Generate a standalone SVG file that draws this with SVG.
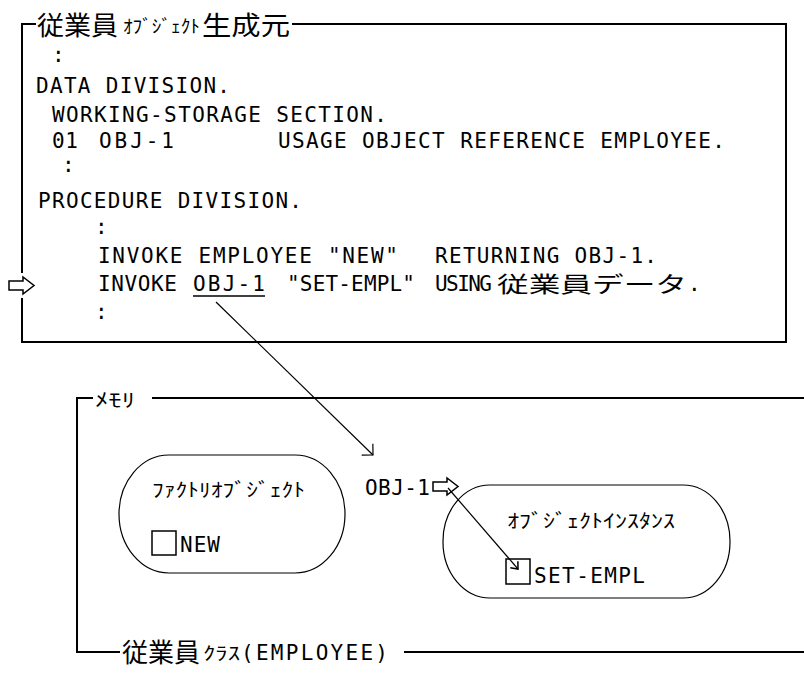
<svg xmlns="http://www.w3.org/2000/svg" width="804" height="673" viewBox="0 0 804 673">
<style>
.code{font-family:"DejaVu Sans Mono","Liberation Mono",monospace;font-size:21px;fill:#000}
.jp{font-family:"Noto Sans CJK JP","Noto Sans CJK SC",sans-serif;fill:#000}
.frame{fill:none;stroke:#000;stroke-width:2}
.oval{fill:none;stroke:#000;stroke-width:1.2}
.conn{fill:none;stroke:#000;stroke-width:1.2}
.hollow{fill:#fff;stroke:#000;stroke-width:1.5;stroke-linejoin:miter}
.box{fill:#fff;stroke:#000;stroke-width:1.5}
</style>
<defs>
<marker id="open" viewBox="-10 -10 20 20" refX="0" refY="0" markerWidth="20" markerHeight="20" orient="auto" markerUnits="userSpaceOnUse">
<path d="M-8,-8 L0,0 L-8,8" fill="none" stroke="#000" stroke-width="1.2"/>
</marker>
<marker id="small" viewBox="-10 -10 20 20" refX="0" refY="0" markerWidth="20" markerHeight="20" orient="auto" markerUnits="userSpaceOnUse">
<path d="M-6,-5 L0,0 L-6,5" fill="none" stroke="#000" stroke-width="1.5"/>
</marker>
</defs>

<g id="source-program">
<path class="frame" d="M36,24 H22 V273 M22,298 V342 H786 V24 H292"/>
<text class="jp" x="37" y="35" font-size="26" textLength="81" lengthAdjust="spacingAndGlyphs">従業員</text>
<text class="jp" x="123" y="33" font-size="18" textLength="77" lengthAdjust="spacingAndGlyphs">ｵﾌﾞｼﾞｪｸﾄ</text>
<text class="jp" x="202" y="35" font-size="26" textLength="88" lengthAdjust="spacingAndGlyphs">生成元</text>
<text class="code" x="52" y="62">:</text>
<text class="code" x="36" y="93" textLength="194">DATA DIVISION.</text>
<text class="code" x="52" y="122" textLength="335">WORKING-STORAGE SECTION.</text>
<text class="code" x="52" y="148" textLength="26">01</text>
<text class="code" x="99" y="148" textLength="75">OBJ-1</text>
<text class="code" x="278" y="148" textLength="447">USAGE OBJECT REFERENCE EMPLOYEE.</text>
<text class="code" x="62" y="172">:</text>
<text class="code" x="38" y="208" textLength="264">PROCEDURE DIVISION.</text>
<text class="code" x="95" y="234">:</text>
<text class="code" x="98" y="263" textLength="300">INVOKE EMPLOYEE "NEW"</text>
<text class="code" x="435" y="263" textLength="222">RETURNING OBJ-1.</text>
<text class="code" x="98" y="291" textLength="79">INVOKE</text>
<text class="code" x="193" y="291" textLength="72">OBJ-1</text>
<text class="code" x="287" y="291" textLength="128">"SET-EMPL"</text>
<text class="code" x="435" y="291" textLength="57">USING</text>
<text class="jp" x="497" y="292" font-size="22" textLength="190" lengthAdjust="spacingAndGlyphs">従業員データ</text>
<text class="code" x="688" y="291">.</text>
<line x1="193" y1="296" x2="265" y2="296" stroke="#000" stroke-width="1.5"/>
<text class="code" x="95" y="319">:</text>
<polygon class="hollow" points="9,281 23,281 23,277 34,285.5 23,294 23,290 9,290"/>
</g>

<g id="memory">
<path class="frame" d="M93,398 H77 V652 H120 M404,652 H804 M152,398 H804"/>
<text class="jp" x="95" y="407" font-size="19" textLength="40" lengthAdjust="spacingAndGlyphs">ﾒﾓﾘ</text>
<text class="jp" x="122" y="662" font-size="26" textLength="78" lengthAdjust="spacingAndGlyphs">従業員</text>
<text class="jp" x="203" y="660" font-size="18" textLength="37" lengthAdjust="spacingAndGlyphs">ｸﾗｽ</text>
<text class="code" x="241" y="660" textLength="147">(EMPLOYEE)</text>
</g>

<g id="factory-object">
<rect class="oval" x="119" y="455" width="226" height="118" rx="50" ry="59"/>
<text class="jp" x="152" y="497" font-size="19" textLength="153" lengthAdjust="spacingAndGlyphs">ﾌｧｸﾄﾘｵﾌﾞｼﾞｪｸﾄ</text>
<rect class="box" x="152" y="531" width="24" height="24"/>
<text class="code" x="180" y="552" textLength="40">NEW</text>
</g>

<g id="obj-1-reference">
<text class="code" x="365" y="495" textLength="65">OBJ-1</text>
<polygon class="hollow" points="433,482 447,482 447,478 458,486.5 447,495 447,491 433,491"/>
</g>

<g id="object-instance">
<rect class="oval" x="443" y="485" width="287" height="113" rx="47" ry="56"/>
<text class="jp" x="507" y="528" font-size="19" textLength="168" lengthAdjust="spacingAndGlyphs">ｵﾌﾞｼﾞｪｸﾄｲﾝｽﾀﾝｽ</text>
<rect class="box" x="506" y="559" width="24" height="25"/>
<text class="code" x="534" y="583" font-size="23" textLength="111">SET-EMPL</text>
</g>

<g id="connectors">
<line class="conn" x1="216" y1="302" x2="373" y2="455" marker-end="url(#open)"/>
<line class="conn" x1="448" y1="488" x2="518" y2="569" marker-end="url(#small)"/>
</g>
</svg>
